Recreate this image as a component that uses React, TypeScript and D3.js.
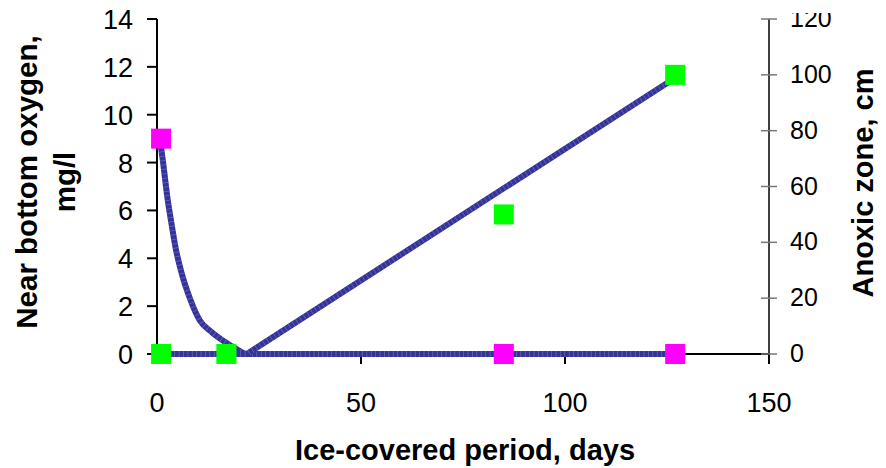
import React from "react";
import * as d3 from "d3";

const xTicks = [0, 50, 100, 150];
const leftTicks = [0, 2, 4, 6, 8, 10, 12, 14];
const rightTicks = [0, 20, 40, 60, 80, 100, 120];

// observed oxygen (mg/l)
const oxygenDays = [1, 85, 127];
const oxygenValues = [9, 0, 0];
// observed anoxic zone (cm)
const anoxicDays = [1, 17, 85, 127];
const anoxicValues = [0, 0, 50, 100];
// fitted oxygen curve (mg/l)
const oxyFitDays = [0.7, 1.5, 2.5, 3.5, 4.6, 6, 8, 10.5, 13.5, 16.5, 19.5, 22, 127];
const oxyFitValues = [9, 8, 6.6, 5.5, 4.4, 3.4, 2.35, 1.4, 0.9, 0.52, 0.2, 0, 0];
// fitted anoxic line (cm)
const anoxFitDays = [1, 22, 126];
const anoxFitValues = [0, 0, 98];

const W = 886;
const H = 468;
const x = d3.scaleLinear().domain([0, 150]).range([157, 769]);
const yL = d3.scaleLinear().domain([0, 14]).range([354, 19]);
const yR = d3.scaleLinear().domain([0, 120]).range([354, 19]);

const LINE = "#333399";
const FONT = "'Liberation Sans', Arial, sans-serif";

export default function App() {
  const oxyLine = d3
    .line<number>()
    .x((_, i) => x(oxyFitDays[i]))
    .y((v) => yL(v))
    .curve(d3.curveMonotoneX)(oxyFitValues) as string;
  const anoxLine = d3
    .line<number>()
    .x((_, i) => x(anoxFitDays[i]))
    .y((v) => yR(v))(anoxFitValues) as string;
  const sq = 20;
  const paths = [oxyLine, anoxLine];
  return (
    <svg
      width={W}
      height={H}
      style={{ position: "fixed", left: 0, top: 0, background: "#fff" }}
      fontFamily={FONT}
    >
      <defs>
        <clipPath id="rclip">
          <rect x={770} y={13} width={80} height={380} />
        </clipPath>
      </defs>
      <rect width={W} height={H} fill="#fff" />
      {/* x axis */}
      <line x1={x(0)} x2={x(150)} y1={yL(0)} y2={yL(0)} stroke="#000" strokeWidth={2} />
      {xTicks.map((t) => (
        <line key={"xt" + t} x1={x(t)} x2={x(t)} y1={yL(0)} y2={yL(0) + 10} stroke="#000" strokeWidth={2} />
      ))}
      {xTicks.map((t) => (
        <text key={"xl" + t} x={x(t)} y={412} textAnchor="middle" fontSize={27} fill="#000">
          {t}
        </text>
      ))}
      {/* left axis */}
      <line x1={x(0)} x2={x(0)} y1={yL(14)} y2={yL(0) + 10} stroke="#000" strokeWidth={2} />
      {leftTicks.map((t) => (
        <g key={"lt" + t}>
          <line x1={x(0) - 10} x2={x(0)} y1={yL(t)} y2={yL(t)} stroke="#000" strokeWidth={2} />
          <text x={133} y={yL(t) + 10} textAnchor="end" fontSize={27} fill="#000">
            {t}
          </text>
        </g>
      ))}
      {/* right axis */}
      <line x1={x(150)} x2={x(150)} y1={yR(120)} y2={yR(0) + 10} stroke="#000" strokeWidth={1.5} />
      {rightTicks.map((t) => (
        <line key={"rt" + t} x1={x(150) - 8} x2={x(150) + 8} y1={yR(t)} y2={yR(t)} stroke="#777" strokeWidth={1.5} />
      ))}
      <g clipPath="url(#rclip)">
        {rightTicks.map((t) => (
          <text key={"rl" + t} x={790} y={yR(t) + 8} textAnchor="start" fontSize={25} fill="#000">
            {t}
          </text>
        ))}
      </g>
      {/* fitted lines */}
      {paths.map((p, i) => (
        <g key={"p" + i}>
          <path d={p} fill="none" stroke={LINE} strokeWidth={6} />
          <path d={p} fill="none" stroke="#7a7ac4" strokeWidth={6} strokeDasharray="0.8 3.6" opacity={0.7} />
        </g>
      ))}
      {/* markers */}
      {oxygenDays.map((d, i) => (
        <rect
          key={"o" + i}
          x={x(d) - sq / 2}
          y={yL(oxygenValues[i]) - sq / 2}
          width={sq}
          height={sq}
          fill="#ff00ff"
        />
      ))}
      {anoxicDays.map((d, i) => (
        <rect
          key={"a" + i}
          x={x(d) - sq / 2}
          y={yR(anoxicValues[i]) - sq / 2}
          width={sq}
          height={sq}
          fill="#00ff00"
        />
      ))}
      {/* titles */}
      <text x={465} y={460} textAnchor="middle" fontSize={29} fontWeight="bold" fill="#000">
        Ice-covered period, days
      </text>
      <text transform="translate(37,182) rotate(-90)" textAnchor="middle" fontSize={29.5} fontWeight="bold" fill="#000">
        Near bottom oxygen,
      </text>
      <text transform="translate(75,182) rotate(-90)" textAnchor="middle" fontSize={29.5} fontWeight="bold" fill="#000">
        mg/l
      </text>
      <text transform="translate(873,183) rotate(-90)" textAnchor="middle" fontSize={29} fontWeight="bold" fill="#000">
        Anoxic zone, cm
      </text>
    </svg>
  );
}
